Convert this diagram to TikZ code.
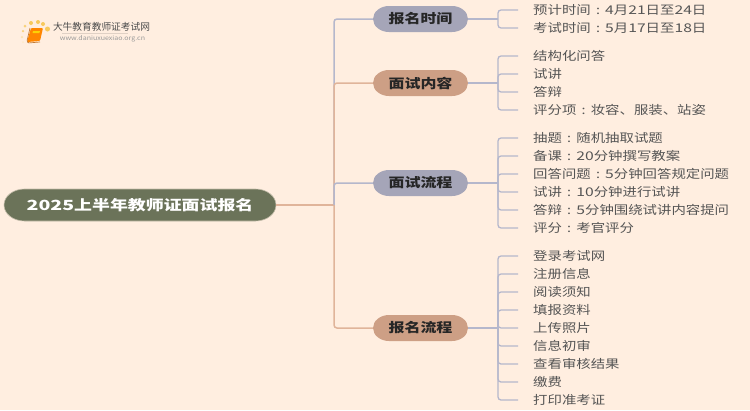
\documentclass[tikz,border=0pt]{standalone}
\usepackage{graphicx}
\usepackage{fontspec}
\setmainfont{Noto Sans CJK SC}
\usetikzlibrary{shapes.misc}
\definecolor{bgc}{HTML}{FFEEE0}
\definecolor{rootc}{HTML}{6B7359}
\definecolor{bluep}{HTML}{A5A5B8}
\definecolor{orap}{HTML}{CD9F85}
\definecolor{bluel}{HTML}{B5B7CC}
\definecolor{oral}{HTML}{E0B49A}
\definecolor{txt}{HTML}{555555}
\definecolor{dotA}{HTML}{F9D27A}
\definecolor{dotB}{HTML}{FBE3B0}
\definecolor{dotC}{HTML}{F7C95C}
\definecolor{dotD}{HTML}{FDEBCB}
\newcommand{\wide}[2]{\scalebox{#1}[1]{#2}}
\newcommand{\dg}[1]{\scalebox{1.09}[1]{#1}}
\newcommand{\cln}{\makebox[1em]{:}}
\tikzset{
  x=1pt,y=-1pt,
  pill/.style={rounded rectangle,xscale=1.23,transform shape,minimum width=77.2pt,minimum height=26pt,inner sep=0pt,font=\fontsize{13}{13}\selectfont\bfseries,text=black!85},
  rootpill/.style={rounded rectangle,xscale=1.28,transform shape,minimum width=212.5pt,minimum height=32pt,inner sep=0pt,text=white,font=\fontsize{14}{14}\selectfont\bfseries},
  leaf/.style={anchor=west,inner xsep=15pt,inner ysep=0pt,text=txt,font=\fontsize{12}{12}\selectfont},
  trunkb/.style={draw=bluel,line width=1.5pt,rounded corners=3pt},
  trunko/.style={draw=oral,line width=1.5pt,rounded corners=3pt},
  twig/.style={draw=bluel,line width=1.3pt,rounded corners=3pt},
}
\begin{document}
\begin{tikzpicture}
\useasboundingbox (0,0) rectangle (750,410);
\fill[bgc] (0,0) rectangle (750,410);
% logo
\node[inner sep=0pt,anchor=center,text=black!70,font=\fontsize{9.7}{10}\selectfont] (logotitle) at (101.5,27) {大牛教育教师证考试网};
\node[inner sep=0pt,text=black!40,font=\fontsize{6.3}{7}\selectfont] (logourl) at (102.5,39) {\wide{1.12}{www.daniuxuexiao.org.cn}};
\draw[bgc!88!black,line width=.8pt] (62,33.5) -- (128,33.5);
\foreach \n/\a/\b/\c/\s in {a/23/31/dotA/2.5,b/22/37/dotB/2.5,c/25/26/dotA/3,d/31/23/dotC/4,e/38/22/dotC/4,f/43/24/dotC/4,g/47.5/29/dotC/5,h/23/42/dotD/2}
  \node[circle,fill=\c,inner sep=0pt,minimum size=\s pt] (dot\n) at (\a,\b) {};
\fill[orange!95!yellow,rounded corners=1pt] (31,28) -- (43,28) -- (40,41) -- (27,42) -- cycle;
\draw[orange!70!black!80,line width=.7pt,rounded corners=1pt] (30,28) -- (27,41) -- (28,43) -- (40,42);
\fill[yellow!70!orange] (33,31) -- (40,31) -- (39.4,33) -- (32.5,33) -- cycle;
% main nodes
\node[rootpill,fill=rootc,draw=rootc!40!bgc,line width=.6pt] (root) at (140,205) {\dg{2025}上半年教师证面试报名};
\node[pill,fill=bluep] (p1) at (420.5,19) {报名时间};
\node[pill,fill=orap] (p2) at (420.5,83) {面试内容};
\node[pill,fill=bluep] (p3) at (420.5,183) {面试流程};
\node[pill,fill=orap] (p4) at (420.5,328) {报名流程};
\coordinate (t) at (334,205);
\draw[trunkb] (t) |- (p1.west);
\draw[trunko] (t) |- (p2.west);
\draw[trunko] (root.east) -- (t);
\draw[trunko] (t) |- (p4.west);
\draw[trunkb] (t) |- (p3.west);
% group 1
\coordinate (j1) at (498,19);
\draw[twig] (p1.east) -- (j1);
\foreach \i/\yy/\tx in {a/10/预计时间\cln\dg{4}月\dg{21}日至\dg{24}日,b/28/考试时间\cln\dg{5}月\dg{17}日至\dg{18}日}{
  \node[leaf] (n1\i) at (518,\yy) {\wide{1.2}{\tx}};
  \draw[twig] (j1) |- (n1\i.west);
}
% group 2
\coordinate (j2) at (498,83);
\draw[twig] (p2.east) -- (j2);
\foreach \i/\yy/\tx in {a/56/结构化问答,b/74/试讲,c/92/答辩,d/110/评分项\cln 妆容、服装、站姿}{
  \node[leaf] (n2\i) at (518,\yy) {\wide{1.2}{\tx}};
  \draw[twig] (j2) |- (n2\i.west);
}
% group 3
\coordinate (j3) at (498,183);
\draw[twig] (p3.east) -- (j3);
\foreach \i/\yy/\tx in {a/138/抽题\cln 随机抽取试题,b/156/备课\cln\dg{20}分钟撰写教案,c/174/回答问题\cln\dg{5}分钟回答规定问题,d/192/试讲\cln\dg{10}分钟进行试讲,e/210/答辩\cln\dg{5}分钟围绕试讲内容提问,f/228/评分\cln 考官评分}{
  \node[leaf] (n3\i) at (518,\yy) {\wide{1.2}{\tx}};
  \draw[twig] (j3) |- (n3\i.west);
}
% group 4
\coordinate (j4) at (498,328);
\draw[twig] (p4.east) -- (j4);
\foreach \i/\yy/\tx in {a/256/登录考试网,b/274/注册信息,c/292/阅读须知,d/310/填报资料,e/328/上传照片,f/346/信息初审,g/364/查看审核结果,h/382/缴费,i/400/打印准考证}{
  \node[leaf] (n4\i) at (518,\yy) {\wide{1.2}{\tx}};
  \draw[twig] (j4) |- (n4\i.west);
}
\end{tikzpicture}
\end{document}
